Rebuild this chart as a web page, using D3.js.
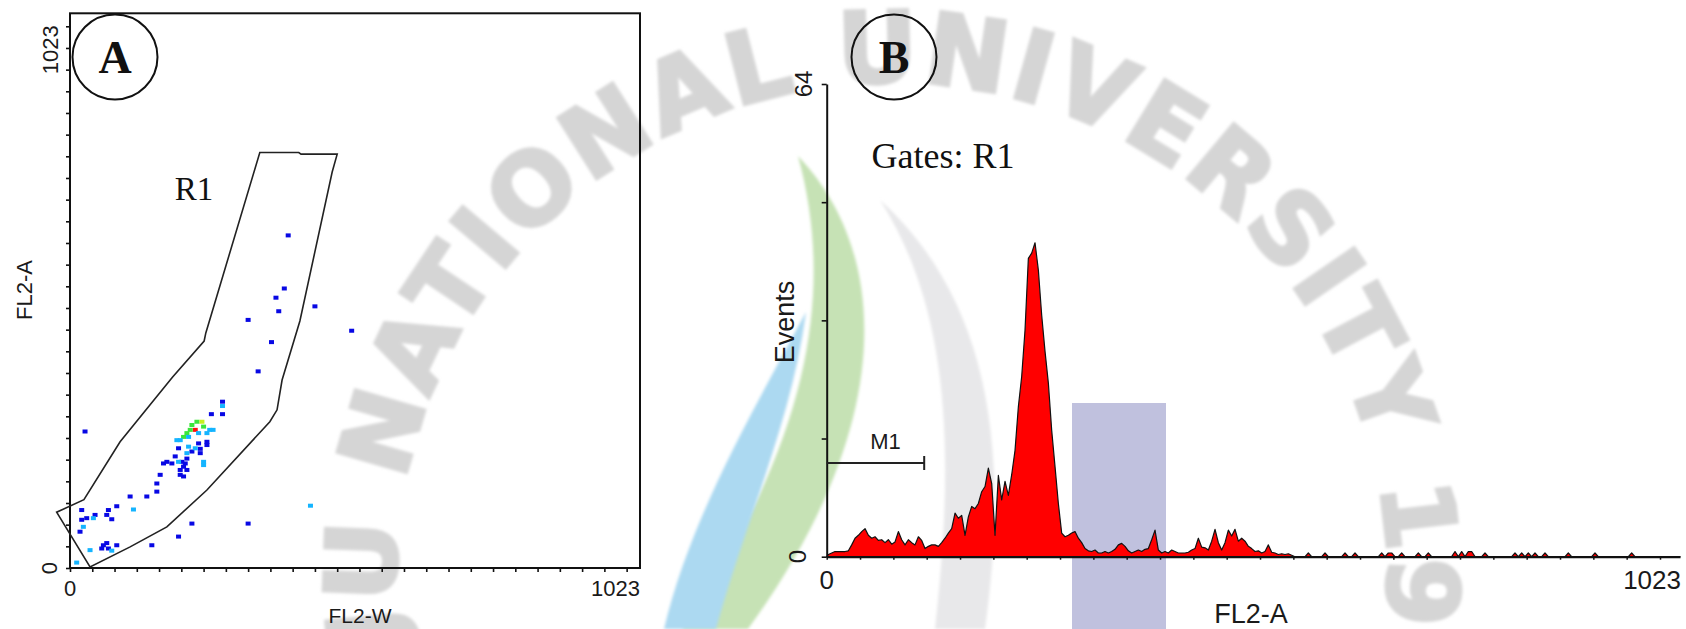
<!DOCTYPE html>
<html>
<head>
<meta charset="utf-8">
<script src="https://cdn.jsdelivr.net/npm/d3@7/dist/d3.min.js"></script>
<style>
  html, body { margin: 0; padding: 0; background: #fff; }
  svg { display: block; }
  .sans { font-family: "Liberation Sans", Arial, sans-serif; fill: #1a1a1a; }
  .serif { font-family: "Liberation Serif", "Times New Roman", serif; fill: #111; }
</style>
</head>
<body>
<script>
var W = 1686, H = 629;

// ---- panel A : FL2-W vs FL2-A dot plot (channels 0..1023)
var eventsW = [392,385,370,375,440,320,506,362,338,
	274,274,254,274,257,228,237,219,240,225,216,210,204,198,213,231,246,251,
	246,246,231,234,219,213,192,195,189,210,201,204,198,204,240,240,174,168,
	162,156,156,138,108,84,114,69,21,45,21,30,42,75,24,18,219,320,432,195,
	147,60,66,57,69,84,36,75,12,27,
	234,225,210,207,195,183,198,210,66];
var eventsA = [614,516,499,474,483,458,438,417,363,
	307,299,284,284,255,270,270,264,261,255,255,249,242,236,242,249,249,255,
	233,227,230,212,215,224,236,221,206,202,196,187,181,169,196,190,196,193,
	172,156,141,132,132,114,108,107,107,98,89,92,92,90,76,67,82,82,115,58,
	42,42,46,36,36,42,33,32,10,252,
	220,221,212,193,196,193,172,181,98];
// density level of each dot: 0 blue, 1 cyan, 2 green, 3 yellow, 4 red
var eventsLevel = [0,0,0,0,0,0,0,0,0,
	0,1,0,0,1,2,3,2,2,4,2,2,2,1,1,1,1,1,
	0,0,0,0,0,1,1,0,0,0,0,0,0,0,1,1,0,0,
	0,0,0,0,0,0,1,0,0,0,0,0,1,0,1,0,0,0,1,0,
	0,0,0,0,0,0,1,1,1,0,
	0,1,1,0,1,0,0,0,0];
var levelColors = ['#0808e4', '#14b4ff', '#3ce63c', '#c8f01e', '#ff1010'];

// region R1 gate polygon, channels
var gateW = [341,411,415,480,471,413,381,372,359,246,174,108,36,-24,25,90,184,241,244];
var gateA = [767,767,764,764,731,456,347,292,270,144,76,39,2,103,126,233,352,419,434];

// ---- panel B : FL2-A histogram, 256 bins of 4 channels
var histCounts = [
	0.3,0.5,0.7,0.7,0.7,0.7,0.8,1.6,2.5,2.9,
	3.4,3.8,2.9,2.5,2.7,2.2,2.3,1.9,2.3,1.7,
	2.0,3.4,2.3,1.6,2.3,1.9,1.6,2.7,2.2,1.1,
	1.4,1.6,1.6,1.4,1.9,2.5,3.2,3.8,5.9,5.2,
	5.6,2.9,5.4,6.8,6.5,7.2,8.8,9.5,12.0,9.9,
	2.9,11.0,7.7,10.2,8.3,11.1,14.4,20.3,24.4,30.7,
	40.4,41.1,42.5,38.8,32.7,27.8,23.5,17.1,12.2,7.2,
	3.2,2.7,2.9,3.2,3.4,2.5,1.9,1.1,0.8,0.7,
	0.9,0.5,0.5,0.7,0.5,0.7,1.0,1.6,1.8,1.4,
	0.8,0.5,0.7,0.9,0.7,1.0,1.1,2.3,3.6,0.9,
	0.5,0.7,0.5,0.9,0.7,0.5,0.5,0.5,0.6,0.9,
	1.1,2.5,1.3,1.2,0.9,2.1,3.7,1.9,0.9,1.9,
	3.6,2.8,3.7,2.1,2.5,2.1,1.4,1.1,0.7,0.8,
	0.5,0.7,1.6,0.6,0.5,0.3,0.4,0.3,0.4,0.2,
	0,0,0,0,0.5,0,0,0,0,0.5,
	0,0,0,0,0,0.5,0,0,0.5,0,
	0,0,0,0,0,0,0.5,0,0.5,0.5,
	0,0,0.5,0,0,0,0,0.5,0,0,
	0.5,0,0,0,0,0,0,0,0.7,0,
	0.7,0,0.7,0.7,0,0,0,0.5,0,0,
	0,0,0,0,0,0,0.5,0,0.5,0,
	0.5,0,0.5,0,0,0.5,0,0,0,0,
	0,0,0.5,0,0,0,0,0,0,0,
	0.5,0,0,0,0,0,0,0,0,0,
	0,0.5,0,0,0,0,0,0,0,0,
	0,0,0,0,0,0];
var binWidth = 4;
var markerM1 = [0, 117];   // channels
var markerM1Level = 12.7;  // events

var watermarkText = 'JU NATIONAL UNIVERSITY 19';

var svg = d3.select('body').append('svg')
	.attr('width', W)
	.attr('height', H)
	.style('background-color', '#fff');

// ---------- watermark (background decoration)
var defs = svg.append('defs');
defs.append('filter').attr('id', 'soft')
	.append('feGaussianBlur').attr('stdDeviation', 1.6);
var wm = svg.append('g').attr('class', 'watermark');

wm.append('path')
	.attr('d', 'M880,200 C990,300 1010,450 985,629 L935,629 C955,450 950,310 880,200 Z')
	.attr('fill', '#e8e8ea').attr('filter', 'url(#soft)');
wm.append('path')
	.attr('d', 'M798,156 C888,250 900,420 748,629 L682,629 C818,430 832,280 798,156 Z')
	.attr('fill', '#c6e2b5').attr('filter', 'url(#soft)');
wm.append('path')
	.attr('d', 'M806,312 C792,420 746,520 716,629 L664,629 C690,520 748,420 806,312 Z')
	.attr('fill', '#acd9f1').attr('filter', 'url(#soft)');
wm.append('rect')
	.attr('x', 1072).attr('y', 403).attr('width', 94).attr('height', H - 403)
	.attr('fill', '#c0c1de');

var cx = 892, cy = 578, rr = 496;
function arcPt(deg) {
	var a = deg * Math.PI / 180;
	return [cx + rr * Math.sin(a), cy - rr * Math.cos(a)];
}
var p0 = arcPt(-100), p1 = arcPt(80), p2 = arcPt(260);
defs.append('path').attr('id', 'wmCircle')
	.attr('d', 'M' + p0 + ' A' + rr + ',' + rr + ' 0 0 1 ' + p1 + ' A' + rr + ',' + rr + ' 0 0 1 ' + p2);
wm.append('text')
	.attr('font-family', '"DejaVu Sans", sans-serif')
	.attr('font-weight', 'bold')
	.attr('font-size', 98)
	.attr('fill', '#d5d5d5')
	.attr('stroke', '#d5d5d5')
	.attr('stroke-width', 4)
	.attr('filter', 'url(#soft)')
	.attr('letter-spacing', 4)
	.append('textPath')
	.attr('href', '#wmCircle')
	.attr('startOffset', 22)
	.text(watermarkText);

// ---------- panel A
var xA = d3.scaleLinear().domain([0, 1024]).range([70, 640]);
var yA = d3.scaleLinear().domain([0, 1024]).range([568, 13.3]);
var gA = svg.append('g');

gA.append('rect')
	.attr('x', xA(0)).attr('y', yA(1024))
	.attr('width', xA(1024) - xA(0)).attr('height', yA(0) - yA(1024))
	.attr('fill', 'none').attr('stroke', '#111').attr('stroke-width', 2);

var tickA = d3.range(0, 1024, 40);
gA.append('g')
	.attr('transform', 'translate(0,' + yA(0) + ')')
	.call(d3.axisBottom(xA).tickValues(tickA).tickSize(4).tickSizeOuter(0).tickFormat(''))
	.call(function(g){ g.select('.domain').remove(); })
	.selectAll('line').attr('stroke', '#111').attr('stroke-width', 1.6);
gA.append('g')
	.attr('transform', 'translate(' + xA(0) + ',0)')
	.call(d3.axisLeft(yA).tickValues(tickA).tickSize(4).tickSizeOuter(0).tickFormat(''))
	.call(function(g){ g.select('.domain').remove(); })
	.selectAll('line').attr('stroke', '#111').attr('stroke-width', 1.6);

gA.append('path')
	.datum(d3.zip(gateW, gateA))
	.attr('d', d3.line().x(function(d){ return xA(d[0]); }).y(function(d){ return yA(d[1]); }).curve(d3.curveLinearClosed))
	.attr('fill', 'none').attr('stroke', '#222').attr('stroke-width', 1.6);

gA.selectAll('rect.ev')
	.data(d3.range(eventsW.length))
	.enter().append('rect')
	.attr('class', 'ev')
	.attr('x', function(i){ return xA(eventsW[i]) - 2.5; })
	.attr('y', function(i){ return yA(eventsA[i]) - 2; })
	.attr('width', 5).attr('height', 4)
	.attr('fill', function(i){ return levelColors[eventsLevel[i]]; });

gA.append('text').attr('class', 'sans').attr('font-size', 22)
	.attr('x', xA(0)).attr('y', 596).attr('text-anchor', 'middle').text('0');
gA.append('text').attr('class', 'sans').attr('font-size', 22)
	.attr('x', xA(1024)).attr('y', 596).attr('text-anchor', 'end').text('1023');
gA.append('text').attr('class', 'sans').attr('font-size', 22)
	.attr('transform', 'translate(57,' + yA(0) + ') rotate(-90)')
	.attr('text-anchor', 'middle').text('0');
gA.append('text').attr('class', 'sans').attr('font-size', 22)
	.attr('transform', 'translate(58,' + (yA(1024) + 12) + ') rotate(-90)')
	.attr('text-anchor', 'end').text('1023');
gA.append('text').attr('class', 'sans').attr('font-size', 21)
	.attr('x', 360).attr('y', 623).attr('text-anchor', 'middle').text('FL2-W');
gA.append('text').attr('class', 'sans').attr('font-size', 22)
	.attr('transform', 'translate(32,290) rotate(-90)')
	.attr('text-anchor', 'middle').text('FL2-A');
gA.append('text').attr('class', 'serif').attr('font-size', 33)
	.attr('x', 194).attr('y', 200).attr('text-anchor', 'middle').text('R1');

// ---------- panel B
var xB = d3.scaleLinear().domain([0, 1024]).range([826.7, 1680]);
var yB = d3.scaleLinear().domain([0, 64]).range([556.7, 84]);
var gB = svg.append('g');

var histPts = [0].concat(histCounts).concat([0]);
var areaB = d3.area()
	.x(function(d, i){
		if (i === 0) return xB(0);
		if (i === histPts.length - 1) return xB(histCounts.length * binWidth);
		return xB((i - 1) * binWidth + binWidth / 2);
	})
	.y0(yB(0))
	.y1(function(d){ return yB(d); });
gB.append('path')
	.datum(histPts)
	.attr('d', areaB)
	.attr('fill', '#ff0000')
	.attr('stroke', '#111')
	.attr('stroke-width', 1.2)
	.attr('stroke-linejoin', 'round');

gB.append('g')
	.attr('transform', 'translate(0,' + yB(0) + ')')
	.call(d3.axisBottom(xB).tickValues(d3.range(0, 1024, 40)).tickSize(3).tickSizeOuter(0).tickFormat(''))
	.call(function(g){
		g.select('.domain').attr('stroke', '#111').attr('stroke-width', 2);
		g.selectAll('line').attr('stroke', '#111').attr('stroke-width', 1.5);
	});
gB.append('g')
	.attr('transform', 'translate(' + xB(0) + ',0)')
	.call(d3.axisLeft(yB).tickValues([0, 16, 32, 48, 64]).tickSize(5).tickSizeOuter(0).tickFormat(''))
	.call(function(g){
		g.select('.domain').attr('stroke', '#111').attr('stroke-width', 2);
		g.selectAll('line').attr('stroke', '#111').attr('stroke-width', 1.6);
	});

// M1 marker
gB.append('path')
	.attr('d', 'M' + xB(markerM1[0]) + ',' + yB(markerM1Level) + 'H' + xB(markerM1[1]) +
		'M' + xB(markerM1[1]) + ',' + (yB(markerM1Level) - 7) + 'V' + (yB(markerM1Level) + 7))
	.attr('fill', 'none').attr('stroke', '#222').attr('stroke-width', 2);
gB.append('text').attr('class', 'sans').attr('font-size', 22)
	.attr('x', (xB(markerM1[0]) + xB(markerM1[1])) / 2 + 10).attr('y', yB(markerM1Level) - 14)
	.attr('text-anchor', 'middle').text('M1');

gB.append('text').attr('class', 'sans').attr('font-size', 26)
	.attr('x', xB(0)).attr('y', 589).attr('text-anchor', 'middle').text('0');
gB.append('text').attr('class', 'sans').attr('font-size', 26)
	.attr('x', 1681).attr('y', 589).attr('text-anchor', 'end').text('1023');
gB.append('text').attr('class', 'sans').attr('font-size', 24)
	.attr('transform', 'translate(812,' + yB(64) + ') rotate(-90)')
	.attr('text-anchor', 'middle').text('64');
gB.append('text').attr('class', 'sans').attr('font-size', 24)
	.attr('transform', 'translate(806,' + yB(0) + ') rotate(-90)')
	.attr('text-anchor', 'middle').text('0');
gB.append('text').attr('class', 'sans').attr('font-size', 27)
	.attr('transform', 'translate(794,322) rotate(-90)')
	.attr('text-anchor', 'middle').text('Events');
gB.append('text').attr('class', 'sans').attr('font-size', 27)
	.attr('x', 1251).attr('y', 623).attr('text-anchor', 'middle').text('FL2-A');
gB.append('text').attr('class', 'serif').attr('font-size', 36)
	.attr('x', 943).attr('y', 168).attr('text-anchor', 'middle').text('Gates: R1');

// ---------- panel letters
var letters = svg.selectAll('g.letter')
	.data([{ t: 'A', x: 115 }, { t: 'B', x: 894 }])
	.enter().append('g')
	.attr('class', 'letter')
	.attr('transform', function(d){ return 'translate(' + d.x + ',57)'; });
letters.append('circle').attr('r', 42.5)
	.attr('fill', 'none').attr('stroke', '#111').attr('stroke-width', 2);
letters.append('text').attr('class', 'serif')
	.attr('font-size', 46).attr('font-weight', 'bold')
	.attr('text-anchor', 'middle').attr('y', 16)
	.text(function(d){ return d.t; });
</script>
</body>
</html>
